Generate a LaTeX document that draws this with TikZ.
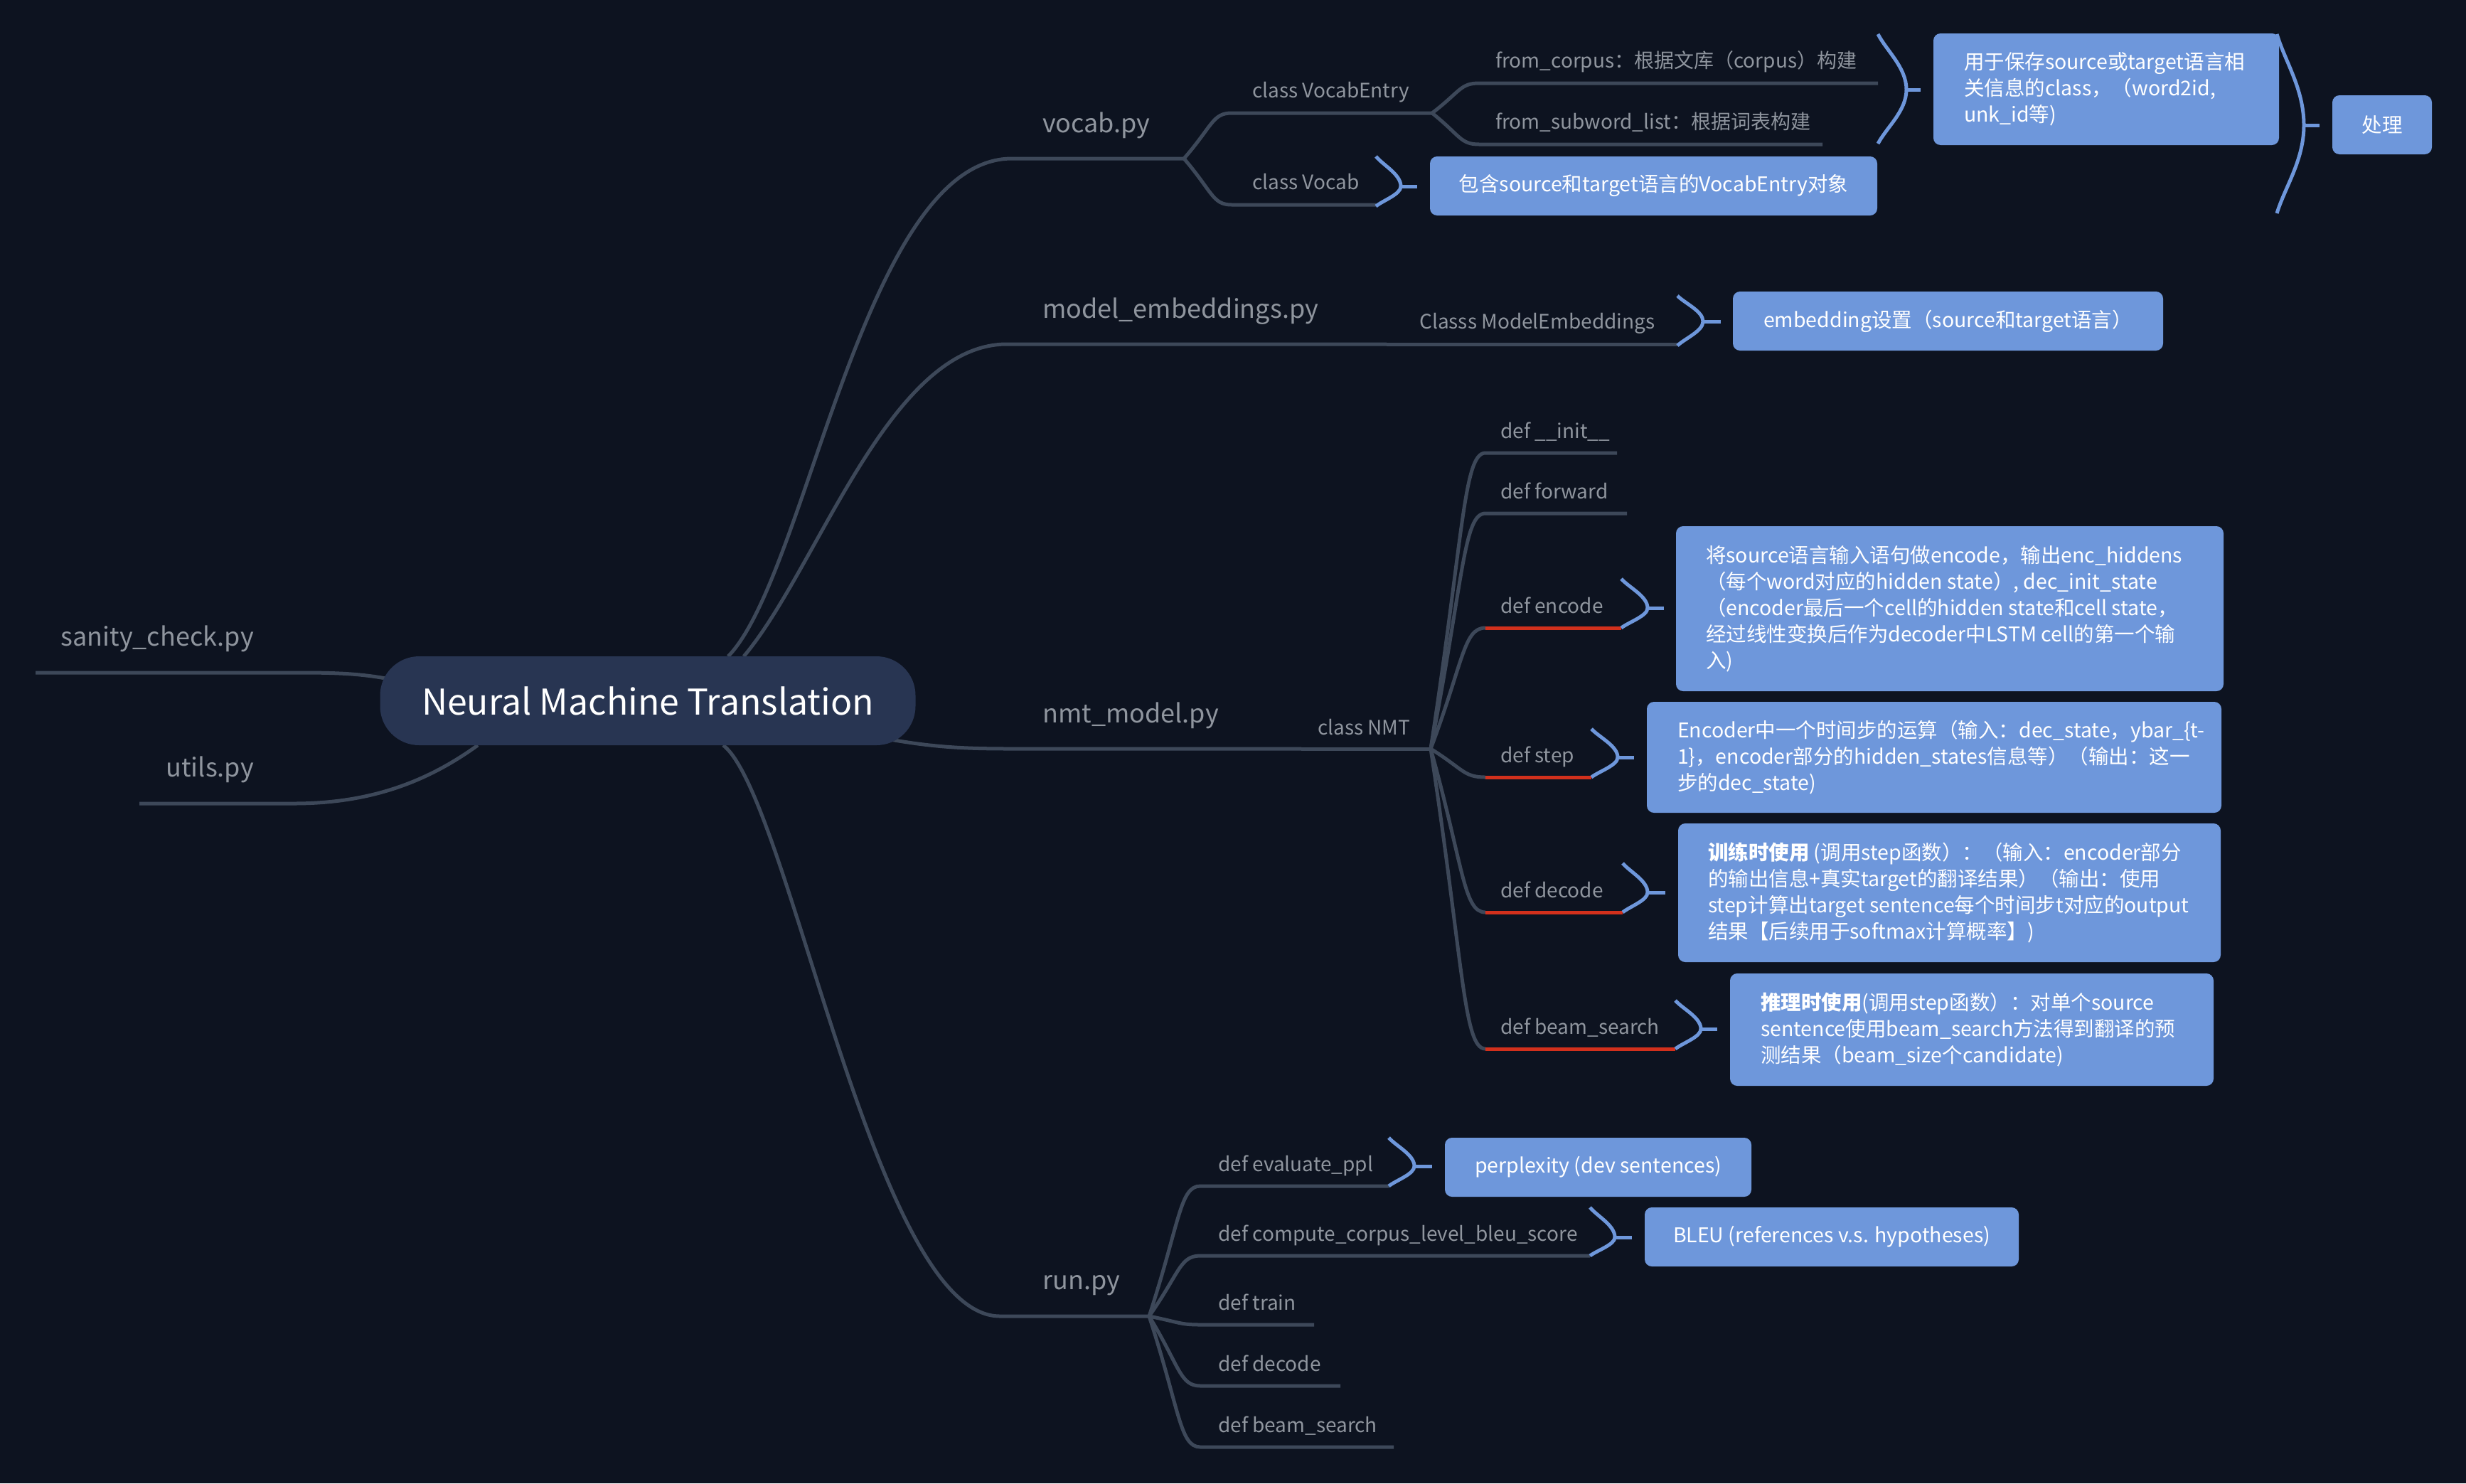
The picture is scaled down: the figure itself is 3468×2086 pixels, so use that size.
\documentclass[tikz,border=0pt]{standalone}
\usepackage{fontspec}
\setmainfont{Noto Sans CJK SC}
\usetikzlibrary{calc}
\definecolor{bgc}{HTML}{0D1320}
\definecolor{linec}{HTML}{3D4859}
\definecolor{txtc}{HTML}{8F959E}
\definecolor{boxc}{HTML}{6E97DB}
\definecolor{redc}{HTML}{D2301C}
\definecolor{rootc}{HTML}{283552}
% bracket: x0, ytop, ybot, xmax, xtick, ytick
\newcommand{\bracketdraw}[6]{%
  \pgfmathsetmacro\bhu{#6-#2}%
  \pgfmathsetmacro\bhd{#3-#6}%
  \pgfmathsetmacro\bdx{#4-#1}%
  \draw[brk] (#1,#2) .. controls ({#1+0.3*\bdx},{#2+0.3*\bhu}) and (#4,{#6-0.4*\bhu}) .. (#4,#6)
     .. controls (#4,{#6+0.4*\bhd}) and ({#1+0.3*\bdx},{#3-0.3*\bhd}) .. (#1,#3);
  \draw[brk] (#4,#6) -- (#5,#6);}
% fork curve from coordinate #2 to coordinate #3
\newcommand{\forkcurve}[3]{%
  let \p1=(#2), \p2=(#3) in (\p1) .. controls ({\x1+0.6*(\x2-\x1)},{\y1+0.72*(\y2-\y1)}) and ({\x1+0.6*(\x2-\x1)},\y2) .. (\p2)}
\begin{document}
\begin{tikzpicture}[x=1pt,y=-1pt,
  ln/.style={draw=linec, line width=5},
  mln/.style={draw=linec, line width=5},
  redline/.style={draw=redc, line width=5},
  brk/.style={draw=boxc, line width=5},
  lbl/.style={text=txtc, font=\fontsize{28}{34}\selectfont, inner sep=0, anchor=base west},
  mainlbl/.style={lbl, font=\fontsize{36}{44}\selectfont},
  bx/.style={fill=boxc, rounded corners=10, inner sep=0},
  bxt/.style={text=white, font=\fontsize{28.5}{37}\selectfont, align=left, inner sep=0, anchor=west},
  bxc/.style={text=white, font=\fontsize{28.5}{37}\selectfont, inner sep=0}]
\fill[bgc] (0,0) rectangle (3468,2086);
\useasboundingbox (0,0) rectangle (3468,2086);

% ---------- coordinates ----------
\coordinate (rootTA) at (1024,923);
\coordinate (rootTB) at (1046,923);
\coordinate (rootB) at (1017,1048);
\coordinate (rootE) at (1252,1040);
\coordinate (rootW) at (548,955);
\coordinate (rootSW) at (672,1048);

% ---------- left branches ----------
\coordinate (sanA) at (50,946);
\coordinate (sanB) at (422,946);
\draw[mln] (sanA) -- (sanB) .. controls (480,946) and (510,948) .. (rootW);
\coordinate (utA) at (196,1130);
\coordinate (utB) at (413,1130);
\draw[mln] (utA) -- (utB) .. controls (520,1130) and (600,1100) .. (rootSW);

% ---------- vocab.py ----------
\coordinate (vocS) at (1423,223);
\coordinate (vocF) at (1665,223);
\draw[mln] (rootTA) .. controls (1135,810) and (1215,223) .. (vocS) -- (vocF);
\coordinate (veS) at (1732,159); \coordinate (veF) at (2014,159);
\coordinate (vvS) at (1732,288); \coordinate (vvE) at (1935,288);
\draw[ln] \forkcurve{}{vocF}{veS} -- (veF);
\draw[ln] \forkcurve{}{vocF}{vvS} -- (vvE);
\coordinate (fcS) at (2080,117); \coordinate (fcE) at (2641,117);
\coordinate (fsS) at (2080,203); \coordinate (fsE) at (2563,203);
\draw[ln] \forkcurve{}{veF}{fcS} -- (fcE);
\draw[ln] \forkcurve{}{veF}{fsS} -- (fsE);

% ---------- model_embeddings.py ----------
\coordinate (meS) at (1416,484);
\coordinate (meF) at (1950,484);
\coordinate (cmeE) at (2359,484);
\draw[mln] (rootTB) .. controls (1150,800) and (1250,484) .. (meS) -- (meF);
\draw[ln] (meF) -- (cmeE);

% ---------- nmt_model.py ----------
\coordinate (nmS) at (1420,1053);
\coordinate (nmF) at (1830,1053);
\coordinate (nmtF) at (2012,1053);
\draw[mln] (rootE) .. controls (1310,1050) and (1350,1053) .. (nmS) -- (nmF);
\draw[ln] (nmF) -- (nmtF);
\coordinate (iniS) at (2089,637);  \coordinate (iniE) at (2274,637);
\coordinate (fwdS) at (2089,722);  \coordinate (fwdE) at (2288,722);
\coordinate (encS) at (2089,883);  \coordinate (encE) at (2280,883);
\coordinate (stpS) at (2089,1093); \coordinate (stpE) at (2238,1093);
\coordinate (decS) at (2089,1283); \coordinate (decE) at (2282,1283);
\coordinate (bmsS) at (2089,1475); \coordinate (bmsE) at (2356,1475);
\draw[ln] \forkcurve{}{nmtF}{iniS} -- (iniE);
\draw[ln] \forkcurve{}{nmtF}{fwdS} -- (fwdE);
\draw[ln] \forkcurve{}{nmtF}{encS};
\draw[ln] \forkcurve{}{nmtF}{stpS};
\draw[ln] \forkcurve{}{nmtF}{decS};
\draw[ln] \forkcurve{}{nmtF}{bmsS};
\draw[redline] (encS) -- (encE);
\draw[redline] (stpS) -- (stpE);
\draw[redline] (decS) -- (decE);
\draw[redline] (bmsS) -- (bmsE);

% ---------- run.py ----------
\coordinate (runS) at (1406,1851);
\coordinate (runF) at (1616,1851);
\draw[mln] (rootB) .. controls (1110,1120) and (1230,1851) .. (runS) -- (runF);
\coordinate (evS) at (1688,1668); \coordinate (evE) at (1953,1668);
\coordinate (cbS) at (1688,1766); \coordinate (cbE) at (2236,1766);
\coordinate (trS) at (1688,1863); \coordinate (trE) at (1848,1863);
\coordinate (rdS) at (1688,1949); \coordinate (rdE) at (1885,1949);
\coordinate (rbS) at (1688,2035); \coordinate (rbE) at (1960,2035);
\draw[ln] \forkcurve{}{runF}{evS} -- (evE);
\draw[ln] \forkcurve{}{runF}{cbS} -- (cbE);
\draw[ln] \forkcurve{}{runF}{trS} -- (trE);
\draw[ln] \forkcurve{}{runF}{rdS} -- (rdE);
\draw[ln] \forkcurve{}{runF}{rbS} -- (rbE);

% ---------- root ----------
\node[fill=rootc, rounded corners=55, minimum width=753, minimum height=125, inner sep=0,
      text=white, font=\fontsize{50}{58}\selectfont] (root) at (911,985.5) {Neural Machine Translation};

% ---------- labels ----------
\node[mainlbl, anchor=base east] (sanity) at (357,908) {sanity\_check.py};
\node[mainlbl, anchor=base east] (utils) at (357,1092) {utils.py};
\node[mainlbl] (vocab) at (1466,186) {vocab.py};
\node[mainlbl] (memb) at (1466,447) {model\_embeddings.py};
\node[mainlbl] (nmt) at (1466,1016) {nmt\_model.py};
\node[mainlbl] (run) at (1466,1813) {run.py};

\node[lbl] (ve) at (1761,137) {class VocabEntry};
\node[lbl] (vv) at (1761,266) {class Vocab};
\node[lbl] (fc) at (2103,95) {from\_corpus：根据文库（corpus）构建};
\node[lbl] (fs) at (2103,181) {from\_subword\_list：根据词表构建};
\node[lbl] (cme) at (1996,462) {Classs ModelEmbeddings};
\node[lbl] (cnmt) at (1853,1033) {class NMT};
\node[lbl] (dinit) at (2110,616) {def \_\_init\_\_};
\node[lbl] (dfwd) at (2110,701) {def forward};
\node[lbl] (denc) at (2110,862) {def encode};
\node[lbl] (dstp) at (2110,1072) {def step};
\node[lbl] (ddec) at (2110,1262) {def decode};
\node[lbl] (dbms) at (2110,1454) {def beam\_search};
\node[lbl] (rev) at (1713,1647) {def evaluate\_ppl};
\node[lbl] (rcb) at (1713,1745) {def compute\_corpus\_level\_bleu\_score};
\node[lbl] (rtr) at (1713,1842) {def train};
\node[lbl] (rdc) at (1713,1928) {def decode};
\node[lbl] (rbm) at (1713,2014) {def beam\_search};

% ---------- brackets ----------
\bracketdraw{2641}{48}{202}{2681}{2701}{126}
\bracketdraw{1935}{220}{290}{1970}{1993}{262}
\bracketdraw{3202}{48}{300}{3240}{3262}{176}
\bracketdraw{2359}{416}{486}{2395}{2420}{452}
\bracketdraw{2280}{814}{883}{2317}{2340}{855}
\bracketdraw{2238}{1025}{1093}{2275}{2298}{1065}
\bracketdraw{2282}{1214}{1283}{2317}{2342}{1255}
\bracketdraw{2356}{1407}{1475}{2392}{2415}{1447}
\bracketdraw{1953}{1600}{1668}{1989}{2014}{1640}
\bracketdraw{2236}{1698}{1766}{2271}{2295}{1740}

% ---------- boxes ----------
\node[bx, minimum width=486, minimum height=157] (e1) at (2962,125.5) {};
\node[bxt] (e1t) at ([xshift=43]e1.west) {用于保存source或target语言相\\关信息的class，（word2id,\\unk\_id等)};
\node[bx, minimum width=629, minimum height=83] (vb) at (2325.5,261.5) {};
\node[bxc] (vbt) at (vb) {包含source和target语言的VocabEntry对象};
\node[bx, minimum width=140, minimum height=83] (proc) at (3350,175.5) {};
\node[bxc] (proct) at (proc) {处理};
\node[bx, minimum width=605, minimum height=83] (emb) at (2739.5,451.5) {};
\node[bxc] (embt) at (emb) {embedding设置（source和target语言）};
\node[bx, minimum width=770, minimum height=232] (encb) at (2742,856) {};
\node[bxt] (encbt) at ([xshift=42]encb.west) {将source语言输入语句做encode，输出enc\_hiddens\\（每个word对应的hidden state）, dec\_init\_state\\（encoder最后一个cell的hidden state和cell state，\\经过线性变换后作为decoder中LSTM cell的第一个输\\入)};
\node[bx, minimum width=808, minimum height=156] (stpb) at (2720,1065) {};
\node[bxt] (stpbt) at ([xshift=43]stpb.west) {Encoder中一个时间步的运算（输入：dec\_state，ybar\_\{t-\\1\}，encoder部分的hidden\_states信息等）（输出：这一\\步的dec\_state)};
\node[bx, minimum width=763, minimum height=195] (decb) at (2741.5,1255.5) {};
\node[bxt] (decbt) at ([xshift=42]decb.west) {{\bfseries 训练时使用} (调用step函数）：（输入：encoder部分\\的输出信息+真实target的翻译结果）（输出：使用\\step计算出target sentence每个时间步t对应的output\\结果【后续用于softmax计算概率】)};
\node[bx, minimum width=680, minimum height=158] (bmsb) at (2773,1448) {};
\node[bxt] (bmsbt) at ([xshift=43]bmsb.west) {{\bfseries 推理时使用}(调用step函数）：对单个source\\sentence使用beam\_search方法得到翻译的预\\测结果（beam\_size个candidate)};
\node[bx, minimum width=431, minimum height=83] (ppl) at (2247.5,1641.5) {};
\node[bxc] (pplt) at (ppl) {perplexity (dev sentences)};
\node[bx, minimum width=526, minimum height=83] (bleu) at (2576,1739.5) {};
\node[bxc] (bleut) at (bleu) {BLEU (references v.s. hypotheses)};
\end{tikzpicture}
\end{document}
